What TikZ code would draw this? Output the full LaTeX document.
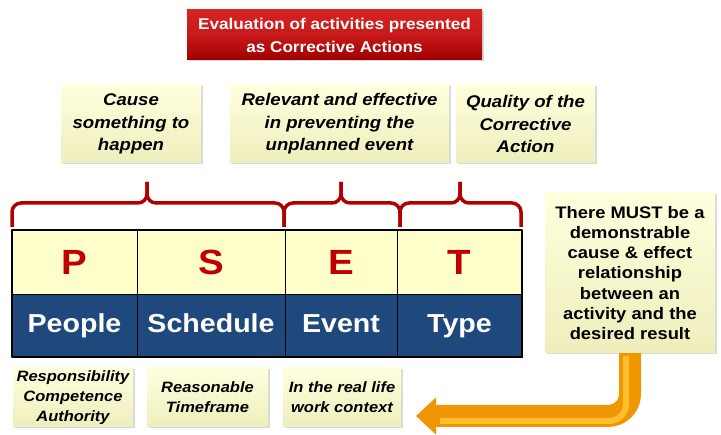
\documentclass[tikz,border=0pt]{standalone}
\usepackage{fontspec}
\setmainfont{Liberation Sans}[FakeStretch=1.1]
\usetikzlibrary{positioning,shadows,arrows.meta}
\definecolor{noteTop}{RGB}{255,255,222}
\definecolor{noteBot}{RGB}{238,238,188}
\definecolor{cellYellow}{RGB}{255,255,204}
\definecolor{cellBlue}{RGB}{31,73,125}
\definecolor{psetRed}{RGB}{192,0,0}
\definecolor{braceRed}{RGB}{176,0,0}
\definecolor{titleTop}{RGB}{215,35,35}
\definecolor{titleBot}{RGB}{160,0,0}
\definecolor{arrowDark}{RGB}{240,150,0}
\definecolor{arrowLight}{RGB}{255,190,45}
\begin{document}
\begin{tikzpicture}[x=1pt,y=-1pt,line join=round,
  note/.style={rectangle,top color=noteTop,bottom color=noteBot,inner sep=0pt,align=center,
    drop shadow={shadow xshift=1.5pt,shadow yshift=-1.5pt,opacity=.3}},
  topnote/.style={note,minimum height=78pt,font=\fontsize{16.9}{22.5}\selectfont\bfseries\itshape},
  lownote/.style={note,minimum height=59pt,font=\fontsize{15}{20}\selectfont\bfseries\itshape},
  lettercell/.style={rectangle,fill=cellYellow,draw=black,line width=.6pt,minimum height=64pt,
    text=psetRed,font=\fontsize{35}{35}\selectfont\bfseries},
  wordcell/.style={rectangle,fill=cellBlue,draw=black,line width=.6pt,minimum height=63pt,
    text height=19pt,text depth=5pt,text=white,font=\fontsize{26}{26}\selectfont\bfseries},
  brace line/.style={draw=braceRed,line width=3.5pt,rounded corners=9pt},
  flowarrow/.style={draw=arrowDark,line width=22pt,rounded corners=22pt,
    -{Triangle[width=36pt,length=20pt]}}]
\useasboundingbox (0,0) rectangle (721,435);
% title
\node[rectangle,top color=titleTop,bottom color=titleBot,middle color=psetRed!90!white,
  minimum width=295pt,minimum height=50pt,inner sep=0pt,align=center,text=white,
  font=\fontsize{15.6}{23}\selectfont\bfseries,
  drop shadow={shadow xshift=1.5pt,shadow yshift=-1.5pt,opacity=.3}]
  (title) at (334.5,35) {Evaluation of activities presented\\as Corrective Actions};
% upper notes
\node[topnote,minimum width=140pt] (cause) at (131,124) {Cause\\something to\\happen};
\node[topnote,minimum width=219pt] (relevant) at (339.5,124) {Relevant and effective\\in preventing the\\unplanned event};
\node[topnote,minimum width=139pt] (quality) at (525.5,124) {Quality of the\\Corrective\\Action};
% braces
\foreach \xa/\xt/\xb in {12/147/284,284/341/400,400/460/521}{
  \draw[brace line] (\xa,227) -- (\xa,203) -- (\xt,203) -- (\xt,182);
  \draw[brace line] (\xt,182) -- (\xt,203) -- (\xb,203) -- (\xb,227);
}
% PSET table
\foreach \l/\w/\xa/\xb in {P/People/12/137,S/Schedule/137/285,E/Event/285/397,T/Type/397/522}{
  \node[lettercell,minimum width={(\xb-\xa)*1pt}] (l\l) at ({(\xa+\xb)/2},262) {\l};
  \node[wordcell,minimum width={(\xb-\xa)*1pt}] (w\l) at ({(\xa+\xb)/2},325.5) {\w};
}
\draw[line width=2pt] (lP.north west) rectangle (wT.south east);
% lower notes
\node[lownote,minimum width=120pt] (people) at (73,397.5) {Responsibility\\Competence\\Authority};
\node[lownote,minimum width=121pt] (schedule) at (207.5,397.5) {Reasonable\\Timeframe};
\node[lownote,minimum width=118pt] (context) at (342,397.5) {In the real life\\work context};
% cause & effect note
\node[note,minimum width=170pt,minimum height=160pt,font=\fontsize{16.7}{20.3}\selectfont\bfseries]
  (rb) at (630,273) {There MUST be a\\demonstrable\\cause \& effect\\relationship\\between an\\activity and the\\desired result};
\coordinate (arrowtip) at (416,416);
\draw[flowarrow] (rb.south) |- (arrowtip);
\draw[draw=arrowLight,line width=6pt,rounded corners=17pt,shorten >=24pt,shorten <=3pt]
  ([xshift=-4pt]rb.south) |- ([yshift=-5pt]arrowtip);
\end{tikzpicture}
\end{document}
